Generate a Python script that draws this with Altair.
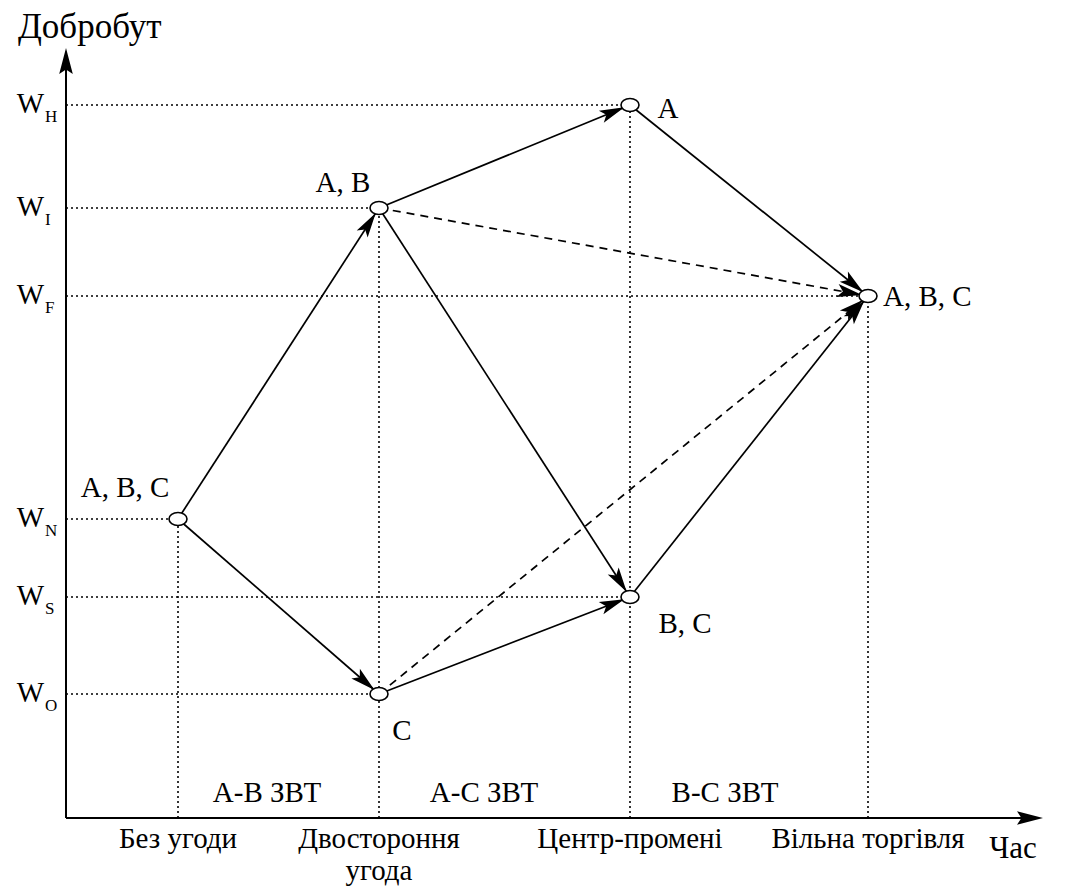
import math
import altair as alt
import pandas as pd

# ---- data ----
stage_labels = ["Без угоди", "Двостороння", "Центр-промені", "Вільна торгівля"]
stage_x = [1.12, 3.13, 5.64, 8.02]

level_names = ["H", "I", "F", "N", "S", "O"]
level_y = [7.13, 6.10, 5.22, 2.99, 2.21, 1.24]

node_ids = ["N", "AB", "C", "A", "BC", "F"]
node_stage = [0, 1, 1, 2, 2, 3]
node_level = ["N", "I", "O", "H", "S", "F"]
node_labels = ["A, B, C", "A, B", "C", "A", "B, C", "A, B, C"]

edge_from = ["N", "N", "AB", "AB", "C", "AB", "C", "A", "BC"]
edge_to = ["AB", "C", "A", "BC", "BC", "F", "F", "F", "F"]
edge_dashed = [False, False, False, False, False, True, True, False, False]

zone_labels = ["A-B ЗВТ", "A-С ЗВТ", "B-С ЗВТ"]
zone_x = [2.01, 4.18, 6.59]
zone_y = 0.25

axis_x_end = 9.77
axis_y_end = 7.70

FONT = "Liberation Serif"

# ---- tables ----
lvl = dict(zip(level_names, level_y))
nodes = pd.DataFrame({
    "id": node_ids,
    "x": [stage_x[s] for s in node_stage],
    "y": [lvl[l] for l in node_level],
    "label": node_labels,
})
pos = nodes.set_index("id")

edges = pd.DataFrame({
    "x": [pos.loc[a, "x"] for a in edge_from],
    "y": [pos.loc[a, "y"] for a in edge_from],
    "x2": [pos.loc[b, "x"] for b in edge_to],
    "y2": [pos.loc[b, "y"] for b in edge_to],
    "dashed": edge_dashed,
})
edges["angle"] = [
    math.degrees(math.atan2(r.x2 - r.x, r.y2 - r.y)) % 360 for r in edges.itertuples()
]

guides_h = pd.DataFrame({"x": 0.0, "x2": nodes["x"], "y": nodes["y"], "y2": nodes["y"]})
vtop = nodes.groupby("x")["y"].max().reset_index()
guides_v = pd.DataFrame({"x": vtop["x"], "x2": vtop["x"], "y": 0.0, "y2": vtop["y"]})
guides = pd.concat([guides_h, guides_v], ignore_index=True)

axes = pd.DataFrame({"x": [0.0, 0.0], "y": [0.0, 0.0],
                     "x2": [0.0, axis_x_end - 0.15], "y2": [axis_y_end - 0.15, 0.0]})
axis_tips = pd.DataFrame({"x": [0.0, axis_x_end], "y": [axis_y_end, 0.0], "angle": [0, 90]})

xs = alt.Scale(domain=[-0.58, 9.87])
ys = alt.Scale(domain=[-0.72, 8.10])


def X(f="x"):
    return alt.X(f"{f}:Q", scale=xs, axis=None)


def Y(f="y"):
    return alt.Y(f"{f}:Q", scale=ys, axis=None)


def txt(df, field, size, **kw):
    return alt.Chart(df).mark_text(font=FONT, fontSize=size, color="black", **kw).encode(
        x=X(), y=Y(), text=f"{field}:N")


layers = []

# dotted guides
layers.append(alt.Chart(guides).mark_rule(color="black", strokeWidth=1.6, strokeDash=[2, 3]).encode(
    x=X(), x2="x2:Q", y=Y(), y2="y2:Q"))

# axes
layers.append(alt.Chart(axes).mark_rule(color="black", strokeWidth=2).encode(
    x=X(), x2="x2:Q", y=Y(), y2="y2:Q"))
tip_shape = "M0,0L0.34,1.3L0,1.08L-0.34,1.3Z"
layers.append(alt.Chart(axis_tips).mark_point(shape=tip_shape, size=1600, filled=True, color="black",
                                               opacity=1, strokeWidth=0).encode(
    x=X(), y=Y(), angle=alt.Angle("angle:Q", scale=None)))

# edges
layers.append(alt.Chart(edges[~edges["dashed"]]).mark_rule(color="black", strokeWidth=1.7).encode(
    x=X(), x2="x2:Q", y=Y(), y2="y2:Q"))
layers.append(alt.Chart(edges[edges["dashed"]]).mark_rule(color="black", strokeWidth=1.7,
                                                           strokeDash=[8, 6]).encode(
    x=X(), x2="x2:Q", y=Y(), y2="y2:Q"))

# arrow heads
head_shape = "M0,0.6L0.65,3.1L0,2.55L-0.65,3.1Z"
layers.append(alt.Chart(edges).mark_point(shape=head_shape, size=400, filled=True, color="black",
                                          opacity=1, strokeWidth=0).encode(
    x=X("x2"), y=Y("y2"), angle=alt.Angle("angle:Q", scale=None)))

# nodes
ell = "M-1,0A1,0.72 0 1,1 1,0A1,0.72 0 1,1 -1,0Z"
layers.append(alt.Chart(nodes).mark_point(shape=ell, size=324, filled=True, fill="white", stroke="black",
                                          strokeWidth=1.6, opacity=1).encode(x=X(), y=Y()))

# node labels
label_style = {
    "N": dict(dx=-53, dy=-31, align="center"),
    "AB": dict(dx=-36, dy=-25, align="center"),
    "C": dict(dx=23, dy=37, align="center"),
    "A": dict(dx=38, dy=4, align="center"),
    "BC": dict(dx=55, dy=27, align="center"),
    "F": dict(dx=15, dy=1, align="left"),
}
for nid, st in label_style.items():
    layers.append(txt(nodes[nodes["id"] == nid], "label", 29, baseline="middle", **st))

# y axis level labels
lev = pd.DataFrame({"x": 0.0, "y": level_y, "w": "W", "sub": level_names})
layers.append(txt(lev, "w", 29, align="right", baseline="alphabetic", dx=-22, dy=8))
layers.append(txt(lev, "sub", 17, align="left", baseline="alphabetic", dx=-21, dy=17))

# zone labels
zones = pd.DataFrame({"x": zone_x, "y": zone_y, "t": zone_labels})
layers.append(txt(zones, "t", 29, baseline="middle"))

# stage labels
stages = pd.DataFrame({"x": stage_x, "y": 0.0, "t": stage_labels})
layers.append(txt(stages, "t", 29, baseline="middle", dy=21))
layers.append(txt(stages.iloc[[1]].assign(t="угода"), "t", 29, baseline="middle", dy=53))

# axis titles
titles = pd.DataFrame({"x": [0.0], "y": [axis_y_end], "t": ["Добробут"]})
layers.append(txt(titles, "t", 35, align="left", baseline="alphabetic", dx=-48, dy=-10))
titles2 = pd.DataFrame({"x": [axis_x_end], "y": [0.0], "t": ["Час"]})
layers.append(txt(titles2, "t", 31, align="center", baseline="middle", dx=-30, dy=31))

chart = alt.layer(*layers).properties(
    width=1045, height=882, padding=0,
    autosize=alt.AutoSizeParams(type="none"),
).configure(font=FONT).configure_view(stroke=None).configure_text(font=FONT)

chart.save("out.html", embed_options={"renderer": "svg", "actions": False})
